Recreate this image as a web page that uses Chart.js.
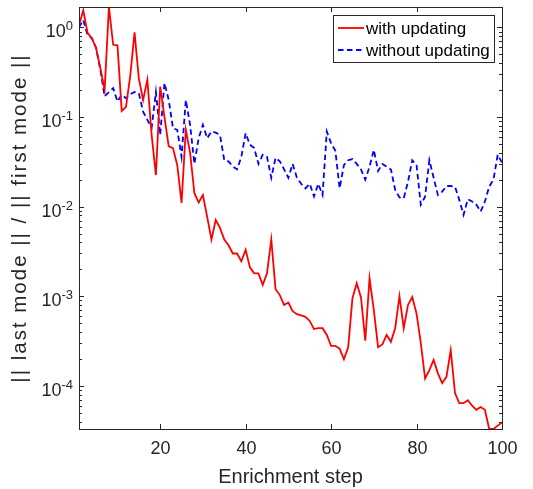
<!DOCTYPE html>
<html>
<head>
<meta charset="utf-8">
<script src="https://cdn.jsdelivr.net/npm/chart.js@4.4.1/dist/chart.umd.min.js"></script>
<style>
  html, body { margin: 0; padding: 0; background: #fff; }
  #wrap { width: 533px; height: 489px; }
</style>
</head>
<body>
<div id="wrap"><canvas id="chart" width="533" height="489"></canvas></div>
<script>
// Enrichment steps 1..100 (categories)
const steps = Array.from({ length: 100 }, (_, i) => i + 1);

// || last mode || / || first mode ||
const withUpdating = [
  1.05, 1.55, 0.87, 0.76, 0.59, 0.35, 0.20, 1.69, 0.64, 0.63,
  0.117, 0.13, 0.29, 0.88, 0.27, 0.155, 0.26, 0.063, 0.0225, 0.218,
  0.10, 0.047, 0.045, 0.029, 0.011, 0.072, 0.040, 0.0142, 0.0111, 0.0135,
  0.0077, 0.0043, 0.0071, 0.0058, 0.0043, 0.0037, 0.0030, 0.0030, 0.00245, 0.0033,
  0.0021, 0.0018, 0.0018, 0.00134, 0.0018, 0.0043, 0.0012, 0.00103, 0.00080, 0.00085,
  0.00068, 0.00063, 0.00061, 0.00059, 0.00053, 0.00043, 0.00044, 0.00044, 0.00037, 0.00028,
  0.00028, 0.00026, 0.000198, 0.00027, 0.00095, 0.0014, 0.00097, 0.00032, 0.00159, 0.00070,
  0.00027, 0.00029, 0.00037, 0.00031, 0.00044, 0.0010, 0.00044, 0.00080, 0.00098, 0.00064,
  0.00030, 0.000121, 0.000150, 0.000195, 0.000138, 0.000107, 0.000126, 0.00025, 0.000083, 0.000064,
  0.000064, 0.000069, 0.000060, 0.000054, 0.000058, 0.000054, 0.000033, 0.000033, 0.000036, 0.000039
];

const withoutUpdating = [
  1.0, 1.21, 0.82, 0.76, 0.59, 0.335, 0.17, 0.19, 0.21, 0.149,
  0.177, 0.162, 0.18, 0.19, 0.185, 0.115, 0.093, 0.076, 0.19, 0.063,
  0.24, 0.155, 0.075, 0.072, 0.036, 0.155, 0.082, 0.030, 0.058, 0.082,
  0.058, 0.069, 0.067, 0.063, 0.033, 0.032, 0.028, 0.026, 0.036, 0.066,
  0.049, 0.045, 0.030, 0.038, 0.036, 0.021, 0.035, 0.032, 0.026, 0.021,
  0.030, 0.021, 0.018, 0.016, 0.018, 0.013, 0.018, 0.0135, 0.069, 0.051,
  0.042, 0.016, 0.029, 0.033, 0.034, 0.030, 0.026, 0.020, 0.028, 0.043,
  0.025, 0.030, 0.028, 0.026, 0.0154, 0.0127, 0.0124, 0.019, 0.033, 0.029,
  0.0105, 0.0129, 0.033, 0.021, 0.0135, 0.0147, 0.017, 0.017, 0.0167, 0.0119,
  0.0081, 0.0121, 0.0114, 0.0105, 0.0088, 0.0114, 0.0167, 0.020, 0.038, 0.031
];

const xTicks = [20, 40, 60, 80, 100];
const yDecades = [-4, -3, -2, -1, 0];
const seriesNames = ['with updating', 'without updating'];

const FONT = "'Liberation Sans', Arial, sans-serif";
const AXIS = '#262626';

// axes box, inward ticks, tick labels, titles and legend (MATLAB look)
const matlabFrame = {
    id: 'matlabFrame',
    afterDraw(chart) {
        const ctx = chart.ctx;
        const a = chart.chartArea;
        const xs = chart.scales.x;
        const ys = chart.scales.y;

        function seg(x1, y1, x2, y2) {
            ctx.beginPath();
            ctx.moveTo(x1, y1);
            ctx.lineTo(x2, y2);
            ctx.stroke();
        }

        ctx.save();
        ctx.strokeStyle = AXIS;
        ctx.lineWidth = 1;
        ctx.strokeRect(Math.round(a.left) + 0.5, Math.round(a.top) + 0.5,
            Math.round(a.right - a.left), Math.round(a.bottom - a.top));

        // x ticks + labels
        ctx.fillStyle = AXIS;
        ctx.font = '18px ' + FONT;
        ctx.textAlign = 'center';
        ctx.textBaseline = 'middle';
        xTicks.forEach(v => {
            const px = Math.round(xs.getPixelForValue(v)) + 0.5;
            seg(px, a.bottom, px, a.bottom - 5);
            seg(px, a.top, px, a.top + 5);
            ctx.fillText(String(v), px, a.bottom + 20);
        });

        // y ticks (major + minor) on both sides
        yDecades.concat([-5]).forEach(e => {
            for (let m = 1; m <= 9; m++) {
                const v = m * Math.pow(10, e);
                if (v < ys.min || v > ys.max) continue;
                const py = Math.round(ys.getPixelForValue(v)) + 0.5;
                const len = m === 1 ? 5 : 3;
                seg(a.left, py, a.left + len, py);
                seg(a.right, py, a.right - len, py);
            }
        });

        // y tick labels 10^e
        yDecades.forEach(e => {
            const py = ys.getPixelForValue(Math.pow(10, e));
            const exp = String(e);
            ctx.textAlign = 'right';
            ctx.textBaseline = 'alphabetic';
            ctx.font = '13px ' + FONT;
            const expW = ctx.measureText(exp).width;
            const right = a.left - 6;
            ctx.fillText(exp, right, py + 3);
            ctx.font = '18px ' + FONT;
            ctx.fillText('10', right - expW, py + 10);
        });

        // axis titles
        ctx.textAlign = 'center';
        ctx.textBaseline = 'alphabetic';
        ctx.font = '20px ' + FONT;
        ctx.fillText('Enrichment step', (a.left + a.right) / 2, 483);
        ctx.save();
        ctx.translate(26, (a.top + a.bottom) / 2);
        ctx.rotate(-Math.PI / 2);
        ctx.font = '20.5px ' + FONT;
        ctx.letterSpacing = '2px';
        ctx.fillText('|| last mode || / || first mode ||', 0, 0);
        ctx.letterSpacing = '0px';
        ctx.restore();

        // legend box
        const lx = 333, ly = 15, lw = 161, lh = 47;
        ctx.fillStyle = '#fff';
        ctx.fillRect(lx, ly, lw, lh);
        ctx.strokeStyle = AXIS;
        ctx.strokeRect(lx + 0.5, ly + 0.5, lw, lh);
        ctx.font = '17px ' + FONT;
        ctx.textAlign = 'left';
        ctx.textBaseline = 'middle';
        chart.data.datasets.forEach((ds, i) => {
            const yy = ly + 13 + i * 22;
            ctx.strokeStyle = ds.borderColor;
            ctx.lineWidth = ds.borderWidth;
            ctx.setLineDash(ds.borderDash || []);
            seg(lx + 5, yy, lx + 31, yy);
            ctx.setLineDash([]);
            ctx.fillStyle = '#000';
            ctx.fillText(seriesNames[i], lx + 33, yy + 1);
        });
        ctx.restore();
    }
};

const ctx = document.getElementById('chart').getContext('2d');
new Chart(ctx, {
    type: 'line',
    data: {
        datasets: [{
            label: seriesNames[0],
            data: steps.map((s, i) => ({ x: s, y: withUpdating[i] })),
            borderColor: '#ff0000',
            borderWidth: 1.8,
            pointRadius: 0,
            tension: 0,
            fill: false
        }, {
            label: seriesNames[1],
            data: steps.map((s, i) => ({ x: s, y: withoutUpdating[i] })),
            borderColor: '#0000ff',
            borderWidth: 1.8,
            borderDash: [5.5, 3.5],
            pointRadius: 0,
            tension: 0,
            fill: false
        }]
    },
    options: {
        responsive: false,
        animation: false,
        layout: { padding: { left: 79, right: 31, top: 7, bottom: 60 } },
        plugins: {
            legend: { display: false },
            tooltip: { enabled: false }
        },
        scales: {
            x: {
                type: 'linear',
                min: 1,
                max: 100,
                display: false
            },
            y: {
                type: 'logarithmic',
                min: Math.min(...withUpdating),
                max: Math.max(...withUpdating),
                display: false
            }
        }
    },
    plugins: [matlabFrame]
});
</script>
</body>
</html>
